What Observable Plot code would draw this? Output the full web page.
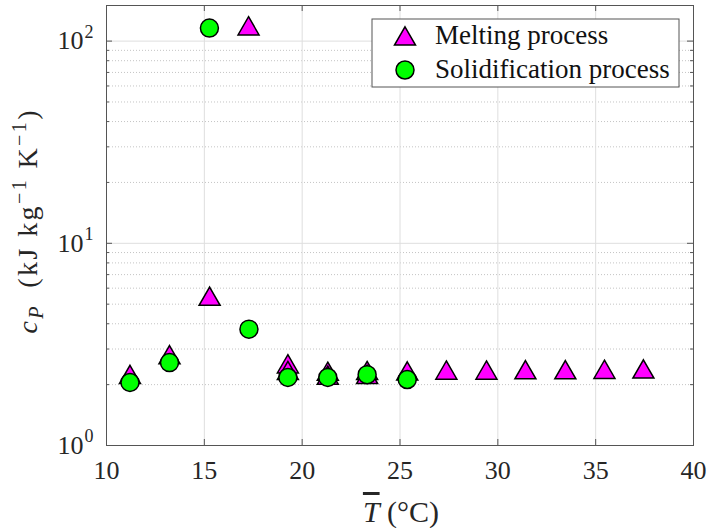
<!DOCTYPE html>
<html><head><meta charset="utf-8">
<script src="https://cdn.jsdelivr.net/npm/d3@7"></script>
<script src="https://cdn.jsdelivr.net/npm/@observablehq/plot@0.6"></script>
<style>body{margin:0;background:#fff} #chart{width:710px;height:528px}</style>
</head><body><div id="chart"></div>
<script>
// ---- data ----
const xTicks = [10, 15, 20, 25, 30, 35, 40];
const yTicks = [1, 10, 100];
const meltT  = [11.2, 13.22, 15.27, 17.26, 19.27, 19.27, 21.31, 21.31, 23.32, 23.32, 25.37, 27.37, 29.42, 31.41, 33.45, 35.45, 37.44];
const meltCp = [2.17, 2.72, 5.29, 115, 2.45, 2.27, 2.25, 2.15, 2.27, 2.17, 2.26, 2.28, 2.28, 2.29, 2.29, 2.30, 2.31];
const solT   = [11.2, 13.22, 15.26, 17.28, 19.27, 21.31, 23.32, 25.37];
const solCp  = [2.05, 2.57, 116, 3.76, 2.17, 2.17, 2.24, 2.12];
const seriesNames = ["Melting process", "Solidification process"];

const melt = meltT.map((T, i) => ({T, cp: meltCp[i]}));
const sol = solT.map((T, i) => ({T, cp: solCp[i]}));
const yMinor = [];
for (const d of yTicks) for (let k = 2; k <= 9; k++) if (d * k <= 150) yMinor.push(d * k);

const W = 710, H = 528, mL = 106, mR = 17, mT = 5, mB = 83;
const innerW = W - mL - mR, innerH = H - mT - mB;
const font = "'Liberation Serif', 'Times New Roman', serif";
const axisCol = "#555";
const magenta = "#ff00ff", green = "#00ff00";

const plot = Plot.plot({
  width: W, height: H,
  marginLeft: mL, marginRight: mR, marginTop: mT, marginBottom: mB,
  style: {fontFamily: font, fontSize: "26px", background: "white", color: "#262626"},
  x: {domain: [10, 40], label: null},
  y: {type: "log", domain: [1, 150], axis: null},
  marks: [
    Plot.ruleY(yMinor, {stroke: "#c4c4c4", strokeDasharray: "1,2"}),
    Plot.ruleX(xTicks, {stroke: "#dedede"}),
    Plot.ruleY(yTicks, {stroke: "#dedede"}),
    Plot.ruleX(xTicks, {stroke: axisCol, insetTop: innerH - 6}),
    Plot.ruleX(xTicks, {stroke: axisCol, insetBottom: innerH - 6}),
    Plot.ruleY(yTicks, {stroke: axisCol, insetRight: innerW - 6}),
    Plot.ruleY(yTicks, {stroke: axisCol, insetLeft: innerW - 6}),
    Plot.ruleY(yMinor, {stroke: axisCol, insetRight: innerW - 3}),
    Plot.ruleY(yMinor, {stroke: axisCol, insetLeft: innerW - 3}),
    Plot.axisX({ticks: xTicks, tickSize: 0, tickPadding: 15, label: null, tickFormat: d => String(d)}),
    Plot.text(yTicks, {y: d => d, frameAnchor: "left", text: d => "10", textAnchor: "end", dx: -23}),
    Plot.text(yTicks, {y: d => d, frameAnchor: "left", text: d => String(Math.round(Math.log10(d))), textAnchor: "end", dx: -13, dy: -9, fontSize: 18}),
    Plot.dot(melt, {x: "T", y: "cp", symbol: "triangle", r: 7.8, fill: magenta, stroke: "black", strokeWidth: 1.5}),
    Plot.dot(sol, {x: "T", y: "cp", symbol: "circle", r: 9, fill: green, stroke: "black", strokeWidth: 1.5}),
    Plot.frame({stroke: axisCol})
  ]
});
document.getElementById("chart").appendChild(plot);

const svg = d3.select(plot);
// y label
const yl = svg.append("text").attr("transform", "translate(37,222) rotate(-90)")
  .attr("text-anchor", "middle").attr("font-size", 28).attr("fill", "#262626")
  .attr("textLength", 223).attr("lengthAdjust", "spacing");
yl.append("tspan").attr("font-style", "italic").text("c");
yl.append("tspan").attr("font-style", "italic").attr("font-size", 20).attr("dy", 6).text("P");
yl.append("tspan").attr("dy", -6).text("\u2002(kJ kg");
yl.append("tspan").attr("font-size", 20).attr("dy", -11).text("\u22121");
yl.append("tspan").attr("dy", 11).text(" K");
yl.append("tspan").attr("font-size", 20).attr("dy", -11).text("\u22121");
yl.append("tspan").attr("dy", 11).text(")");
// x label
const xl = svg.append("text").attr("x", 401).attr("y", 522)
  .attr("text-anchor", "middle").attr("font-size", 30).attr("fill", "#262626");
xl.append("tspan").attr("font-style", "italic").style("text-decoration", "overline").text("T");
xl.append("tspan").text(" (\u00B0C)");
// legend
const lg = svg.append("g");
lg.append("rect").attr("x", 372).attr("y", 19).attr("width", 307).attr("height", 68)
  .attr("fill", "white").attr("stroke", axisCol);
const triSize = Math.PI * 7.8 * 7.8;
lg.append("path").attr("d", d3.symbol(d3.symbolTriangle, triSize)())
  .attr("transform", "translate(405,39)").attr("fill", magenta).attr("stroke", "black").attr("stroke-width", 1.5);
lg.append("circle").attr("cx", 405).attr("cy", 70).attr("r", 9)
  .attr("fill", green).attr("stroke", "black").attr("stroke-width", 1.5);
lg.append("text").attr("x", 435).attr("y", 44).attr("text-anchor", "start").attr("font-size", 27).attr("fill", "#111").text(seriesNames[0]);
lg.append("text").attr("x", 435).attr("y", 78).attr("text-anchor", "start").attr("font-size", 27).attr("fill", "#111").text(seriesNames[1]);
</script>
</body></html>
